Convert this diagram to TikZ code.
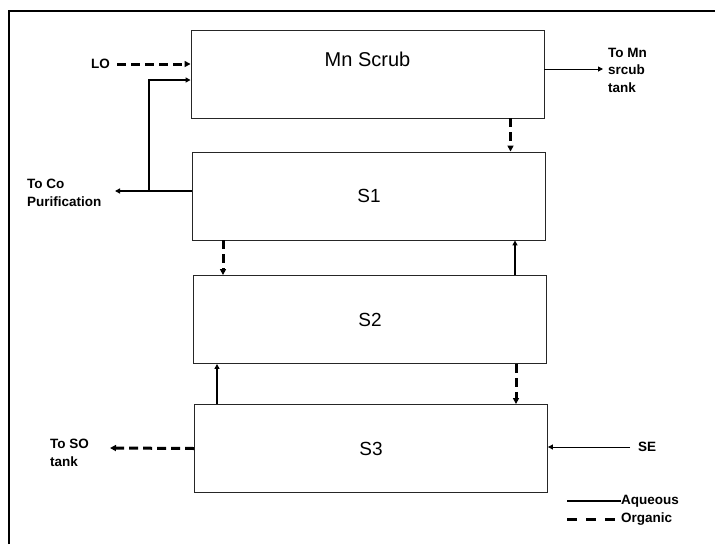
\documentclass[tikz,border=0pt]{standalone}
\usepackage{fontspec}
\setmainfont{Liberation Sans}
\usetikzlibrary{arrows.meta, positioning, calc}

\begin{document}
\begin{tikzpicture}[
  x=1pt, y=-1pt,
  stage/.style={rectangle, draw=black!85, line width=0.9pt, minimum width=353pt,
    minimum height=88pt, inner sep=0pt, font=\fontsize{19}{21}\selectfont},
  tag/.style={font=\bfseries\fontsize{13.5}{17.5}\selectfont, align=left, inner sep=1pt},
  aq/.style={line width=1.8pt, -{Triangle[length=5pt, width=5pt]}},
  aqthin/.style={line width=1pt, -{Triangle[length=5pt, width=5pt]}},
  org/.style={line width=3pt, dash pattern=on 9pt off 5pt,
    -{Triangle[length=6pt, width=6pt]}},
]

\useasboundingbox (0,0) rectangle (715,544);
% outer frame (only top and left edges show)
\draw[line width=2pt] (9,544) -- (9,11) -- (715,11);

% stages
\node[stage, label={[name=mntxt, font=\fontsize{20}{22}\selectfont, yshift=-41pt]north:Mn Scrub}] (mn) at (367.5,74) {};
\node[stage] (s1) at (369,196) {S1};
\node[stage] (s2) at (370,319.5) {S2};
\node[stage] (s3) at (371,448.5) {S3};

% side labels
\node[tag, anchor=east] (lo) at (111,64) {LO};
\node[tag, anchor=west] (co) at (26,193) {To Co\\Purification};
\node[tag, anchor=west] (mntank) at (607,70) {To Mn\\srcub\\tank};
\node[tag, anchor=west] (so) at (49,453) {To SO\\tank};
\node[tag, anchor=west] (se) at (637,447) {SE};

\coordinate (coend) at (115,191);
\coordinate (jn) at (149,191);
\coordinate (mnend) at (603,69);
\coordinate (soend) at (110,448);
\coordinate (sestart) at (630,447);

% feeds and products
\draw[org] ([xshift=6pt]lo.east) -- (mn.west |- lo);
\draw[aq] ([yshift=5pt]s1.west) -- (coend);
\draw[aq] (jn) |- ([yshift=-6pt]mn.west);
\draw[aqthin] ([yshift=5pt]mn.east) -- (mnend);
\draw[org] (s3.west) -- (soend);
\draw[aqthin] (sestart) -- (s3.east |- sestart);

% between stages
\draw[org] ([xshift=143pt]mn.south) -- ([xshift=143pt]mn.south |- s1.north);
\draw[org] ([xshift=-146pt]s1.south) -- ([xshift=-146pt]s1.south |- s2.north);
\draw[aq] ([xshift=145pt]s2.north) -- ([xshift=145pt]s2.north |- s1.south);
\draw[org] ([xshift=146pt]s2.south) -- ([xshift=146pt]s2.south |- s3.north);
\draw[aq] ([xshift=-154pt]s3.north) -- ([xshift=-154pt]s3.north |- s2.south);

% legend
\coordinate (legaq) at (567,501);
\coordinate (legorg) at (567,519);
\node[tag, anchor=west, inner sep=0pt] (aqtxt) at (621,501) {Aqueous};
\node[tag, anchor=west, inner sep=0pt] (orgtxt) at (621,519) {Organic};
\draw[line width=1.8pt] (legaq) -- (aqtxt.west);
\draw[line width=3pt, dash pattern=on 10pt off 9pt] (legorg) -- (orgtxt.west);

\end{tikzpicture}
\end{document}
